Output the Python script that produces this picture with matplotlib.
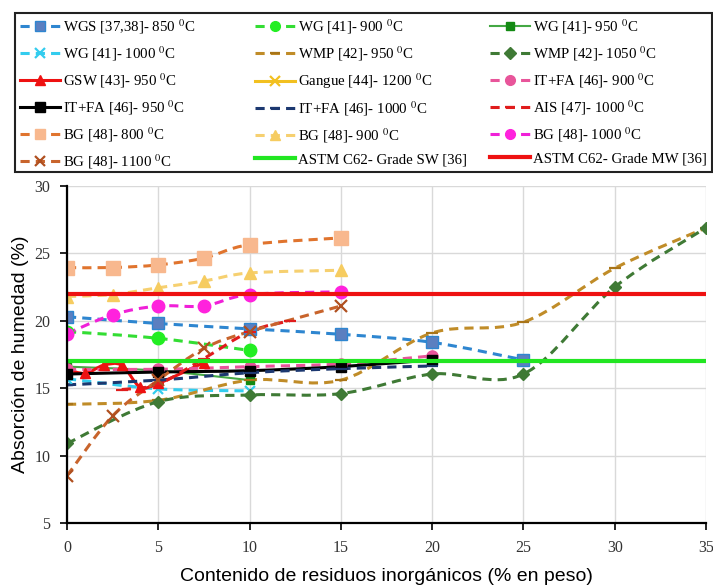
import numpy as np
import matplotlib.pyplot as plt
from matplotlib.path import Path
from matplotlib.patches import PathPatch, Rectangle
from matplotlib.lines import Line2D

plt.rcParams['mathtext.fontset'] = 'stix'

# ---- series (x = % residuo, y = absorcion %) ----
x_wgs = [0, 5, 10, 15, 20, 25]
y_wgs = [20.3, 19.8, 19.4, 19.0, 18.4, 17.1]

x_wg900 = [0, 5, 10]
y_wg900 = [19.2, 18.7, 17.8]

x_wg950 = [0, 5, 10]
y_wg950 = [16.6, 16.3, 15.6]

x_wg1000 = [0, 5, 10]
y_wg1000 = [15.7, 14.95, 14.8]

x_wmp950 = [0, 5, 10, 15, 20, 25, 30, 35]
y_wmp950 = [13.8, 14.1, 15.6, 15.6, 19.1, 19.9, 23.9, 26.9]

x_wmp1050 = [0, 5, 10, 15, 20, 25, 30, 35]
y_wmp1050 = [10.9, 14.0, 14.5, 14.6, 16.05, 16.05, 22.5, 26.9]

x_gsw = [0, 1, 2, 3, 4, 5, 7.5]
y_gsw = [16.4, 16.1, 16.7, 16.7, 15.1, 15.35, 16.9]

x_gangue = []
y_gangue = []

x_itfa900 = [0, 5, 10, 15, 20]
y_itfa900 = [16.4, 16.4, 16.6, 16.8, 17.4]

x_itfa950 = [0, 5, 10, 15, 20]
y_itfa950 = [16.05, 16.2, 16.3, 16.6, 17.1]

x_itfa1000 = [0, 5, 10, 15, 20]
y_itfa1000 = [15.25, 15.6, 16.15, 16.45, 16.65]

x_ais = [3, 5, 7.5, 10, 12.2]
y_ais = [14.9, 15.3, 17.2, 19.2, 20.0]

x_bg = [0, 2.5, 5, 7.5, 10, 15]
y_bg800 = [23.95, 23.95, 24.15, 24.65, 25.65, 26.15]
y_bg900 = [21.8, 21.95, 22.45, 22.95, 23.55, 23.75]
y_bg1000 = [19.05, 20.45, 21.1, 21.1, 21.95, 22.15]
y_bg1100 = [8.5, 12.95, 15.6, 17.95, 19.2, 21.1]

astm_sw = 17.0
astm_mw = 22.0

deg = r'$^{0}$C'
labels = ['WGS [37,38]- 850 ' + deg, 'WG [41]- 900 ' + deg, 'WG [41]- 950 ' + deg,
          'WG [41]- 1000 ' + deg, 'WMP [42]- 950 ' + deg, 'WMP [42]- 1050 ' + deg,
          'GSW [43]- 950 ' + deg, 'Gangue [44]- 1200 ' + deg, 'IT+FA [46]- 900 ' + deg,
          'IT+FA [46]- 950 ' + deg, 'IT+FA [46]- 1000 ' + deg, 'AIS [47]- 1000 ' + deg,
          'BG [48]- 800 ' + deg, 'BG [48]- 900 ' + deg, 'BG [48]- 1000 ' + deg,
          'BG [48]- 1100 ' + deg, 'ASTM C62- Grade SW [36]', 'ASTM C62- Grade MW [36]']

series = [
    (x_wgs, y_wgs, dict(color='#2e86d0', ls='--', marker='s', mfc='#5b7fc0', mec='#2e86d0', ms=8)),
    (x_wg900, y_wg900, dict(color='#33dd33', ls='--', marker='o', mfc='#22ee22', mec='#22ee22', ms=9)),
    (x_wg950, y_wg950, dict(color='#44a844', ls='-', marker='s', mfc='#138a13', mec='#138a13', ms=6, lw=1.5)),
    (x_wg1000, y_wg1000, dict(color='#33ccee', ls='--', marker='x', mfc='#33ccee', mec='#33ccee', ms=7)),
    (x_wmp950, y_wmp950, dict(color='#c08c28', ls='--', marker='_', mfc='#a87418', mec='#a87418', ms=9)),
    (x_wmp1050, y_wmp1050, dict(color='#3f7a35', ls='--', marker='D', mfc='#3f7a35', mec='#3f7a35', ms=6)),
    (x_gsw, y_gsw, dict(color='#ee1111', ls='-', marker='^', mfc='#ee1111', mec='#ee1111', ms=7)),
    (x_gangue, y_gangue, dict(color='#f2c020', ls='-', marker='x', mfc='#f2c020', mec='#f2c020', ms=7)),
    (x_itfa900, y_itfa900, dict(color='#e8559a', ls='--', marker='o', mfc='#e8559a', mec='#e8559a', ms=8)),
    (x_itfa950, y_itfa950, dict(color='#000000', ls='-', marker='s', mfc='#000000', mec='#000000', ms=7)),
    (x_itfa1000, y_itfa1000, dict(color='#1c3870', ls='--', marker='_', mfc='#1c3870', mec='#1c3870', ms=9)),
    (x_ais, y_ais, dict(color='#e01c1c', ls='--', marker='_', mfc='#e01c1c', mec='#e01c1c', ms=9)),
    (x_bg, y_bg800, dict(color='#e0742e', ls='--', marker='s', mfc='#f8b88e', mec='#f8b88e', ms=10)),
    (x_bg, y_bg900, dict(color='#f6d070', ls='--', marker='^', mfc='#f6cc60', mec='#f6cc60', ms=8)),
    (x_bg, y_bg1000, dict(color='#f020d8', ls='--', marker='o', mfc='#ff22dd', mec='#ff22dd', ms=9)),
    (x_bg, y_bg1100, dict(color='#c8642c', ls='--', marker='x', mfc='#b05020', mec='#b05020', ms=8)),
]


def smooth_path(xs, ys):
    # bezier curve through the points, like a smoothed spreadsheet line
    pts = np.column_stack([xs, ys]).astype(float)
    n = len(pts)
    verts = [pts[0]]
    codes = [Path.MOVETO]
    for i in range(n - 1):
        p0 = pts[max(i - 1, 0)]
        p1 = pts[i]
        p2 = pts[i + 1]
        p3 = pts[min(i + 2, n - 1)]
        verts += [p1 + (p2 - p0) / 6.0, p2 - (p3 - p1) / 6.0, p2]
        codes += [Path.CURVE4] * 3
    return Path(verts, codes)


fig = plt.figure(figsize=(7.13, 5.87), dpi=100)
ax = fig.add_axes([67 / 713, 1 - 523 / 587, 639 / 713, 337 / 587])

handles = []
for (xs, ys, st) in series:
    lw = st.get('lw', 2.2)
    dash = (0, (3, 2)) if st['ls'] == '--' else '-'
    if len(xs) > 1:
        patch = PathPatch(smooth_path(xs, ys), facecolor='none', edgecolor=st['color'],
                          lw=lw, linestyle=dash, zorder=3)
        ax.add_patch(patch)
    mew = 1.6 if st['marker'] in ('x', '_') else 1.0
    ax.plot(xs, ys, ls='none', marker=st['marker'], mfc=st['mfc'], mec=st['mec'],
            ms=st['ms'], mew=mew, zorder=4)
    handles.append(Line2D([], [], color=st['color'], lw=lw, linestyle=dash,
                          marker=st['marker'], mfc=st['mfc'], mec=st['mec'],
                          ms=min(st['ms'], 7), mew=mew))

ax.axhline(astm_sw, color='#22e622', lw=3, zorder=5)
ax.axhline(astm_mw, color='#ee1111', lw=3, zorder=5)
handles.append(Line2D([], [], color='#22e622', lw=3))
handles.append(Line2D([], [], color='#ee1111', lw=3))

ax.set_xlim(0, 35)
ax.set_ylim(5, 30)
ax.set_xticks(np.arange(0, 36, 5))
ax.set_yticks(np.arange(5, 31, 5))
ax.grid(True, color='#d9d9d9', lw=1)
ax.set_axisbelow(True)
for s in ['top', 'right']:
    ax.spines[s].set_visible(False)
for s in ['left', 'bottom']:
    ax.spines[s].set_color('black')
    ax.spines[s].set_linewidth(1.6)
    ax.spines[s].set_zorder(6)
ax.tick_params(direction='out', length=5, width=1.2, color='black', labelsize=11.5,
               labelcolor='#333333')
for lab in ax.get_xticklabels() + ax.get_yticklabels():
    lab.set_fontfamily('Liberation Serif')
ax.tick_params(axis='x', pad=7)
ax.tick_params(axis='y', pad=7)

ax.set_xlabel('Contenido de residuos inorgánicos (% en peso)', fontsize=14,
              fontfamily='Liberation Sans', labelpad=9)
ax.set_ylabel('Absorción de humedad (%)', fontsize=14, fontfamily='Liberation Sans', labelpad=4)

# legend: three columns laid out on a fixed pitch, one frame round them
fig.add_artist(Rectangle((15 / 713, 1 - 172 / 587), 697 / 713, 159 / 587,
                         transform=fig.transFigure, fill=False, ec='#222222', lw=1.5))
for c, xpix in enumerate([20, 255, 490]):
    idx = list(range(c, 18, 3))
    fig.legend([handles[i] for i in idx], [labels[i] for i in idx], loc='upper left',
               bbox_to_anchor=(xpix / 713, 1 - 17.5 / 587), frameon=False, borderpad=0,
               borderaxespad=0, handlelength=2.7, handletextpad=0.2, labelspacing=0.56,
               prop={'family': 'Liberation Serif', 'size': 10.7})

fig.savefig('out.png', dpi=100)
